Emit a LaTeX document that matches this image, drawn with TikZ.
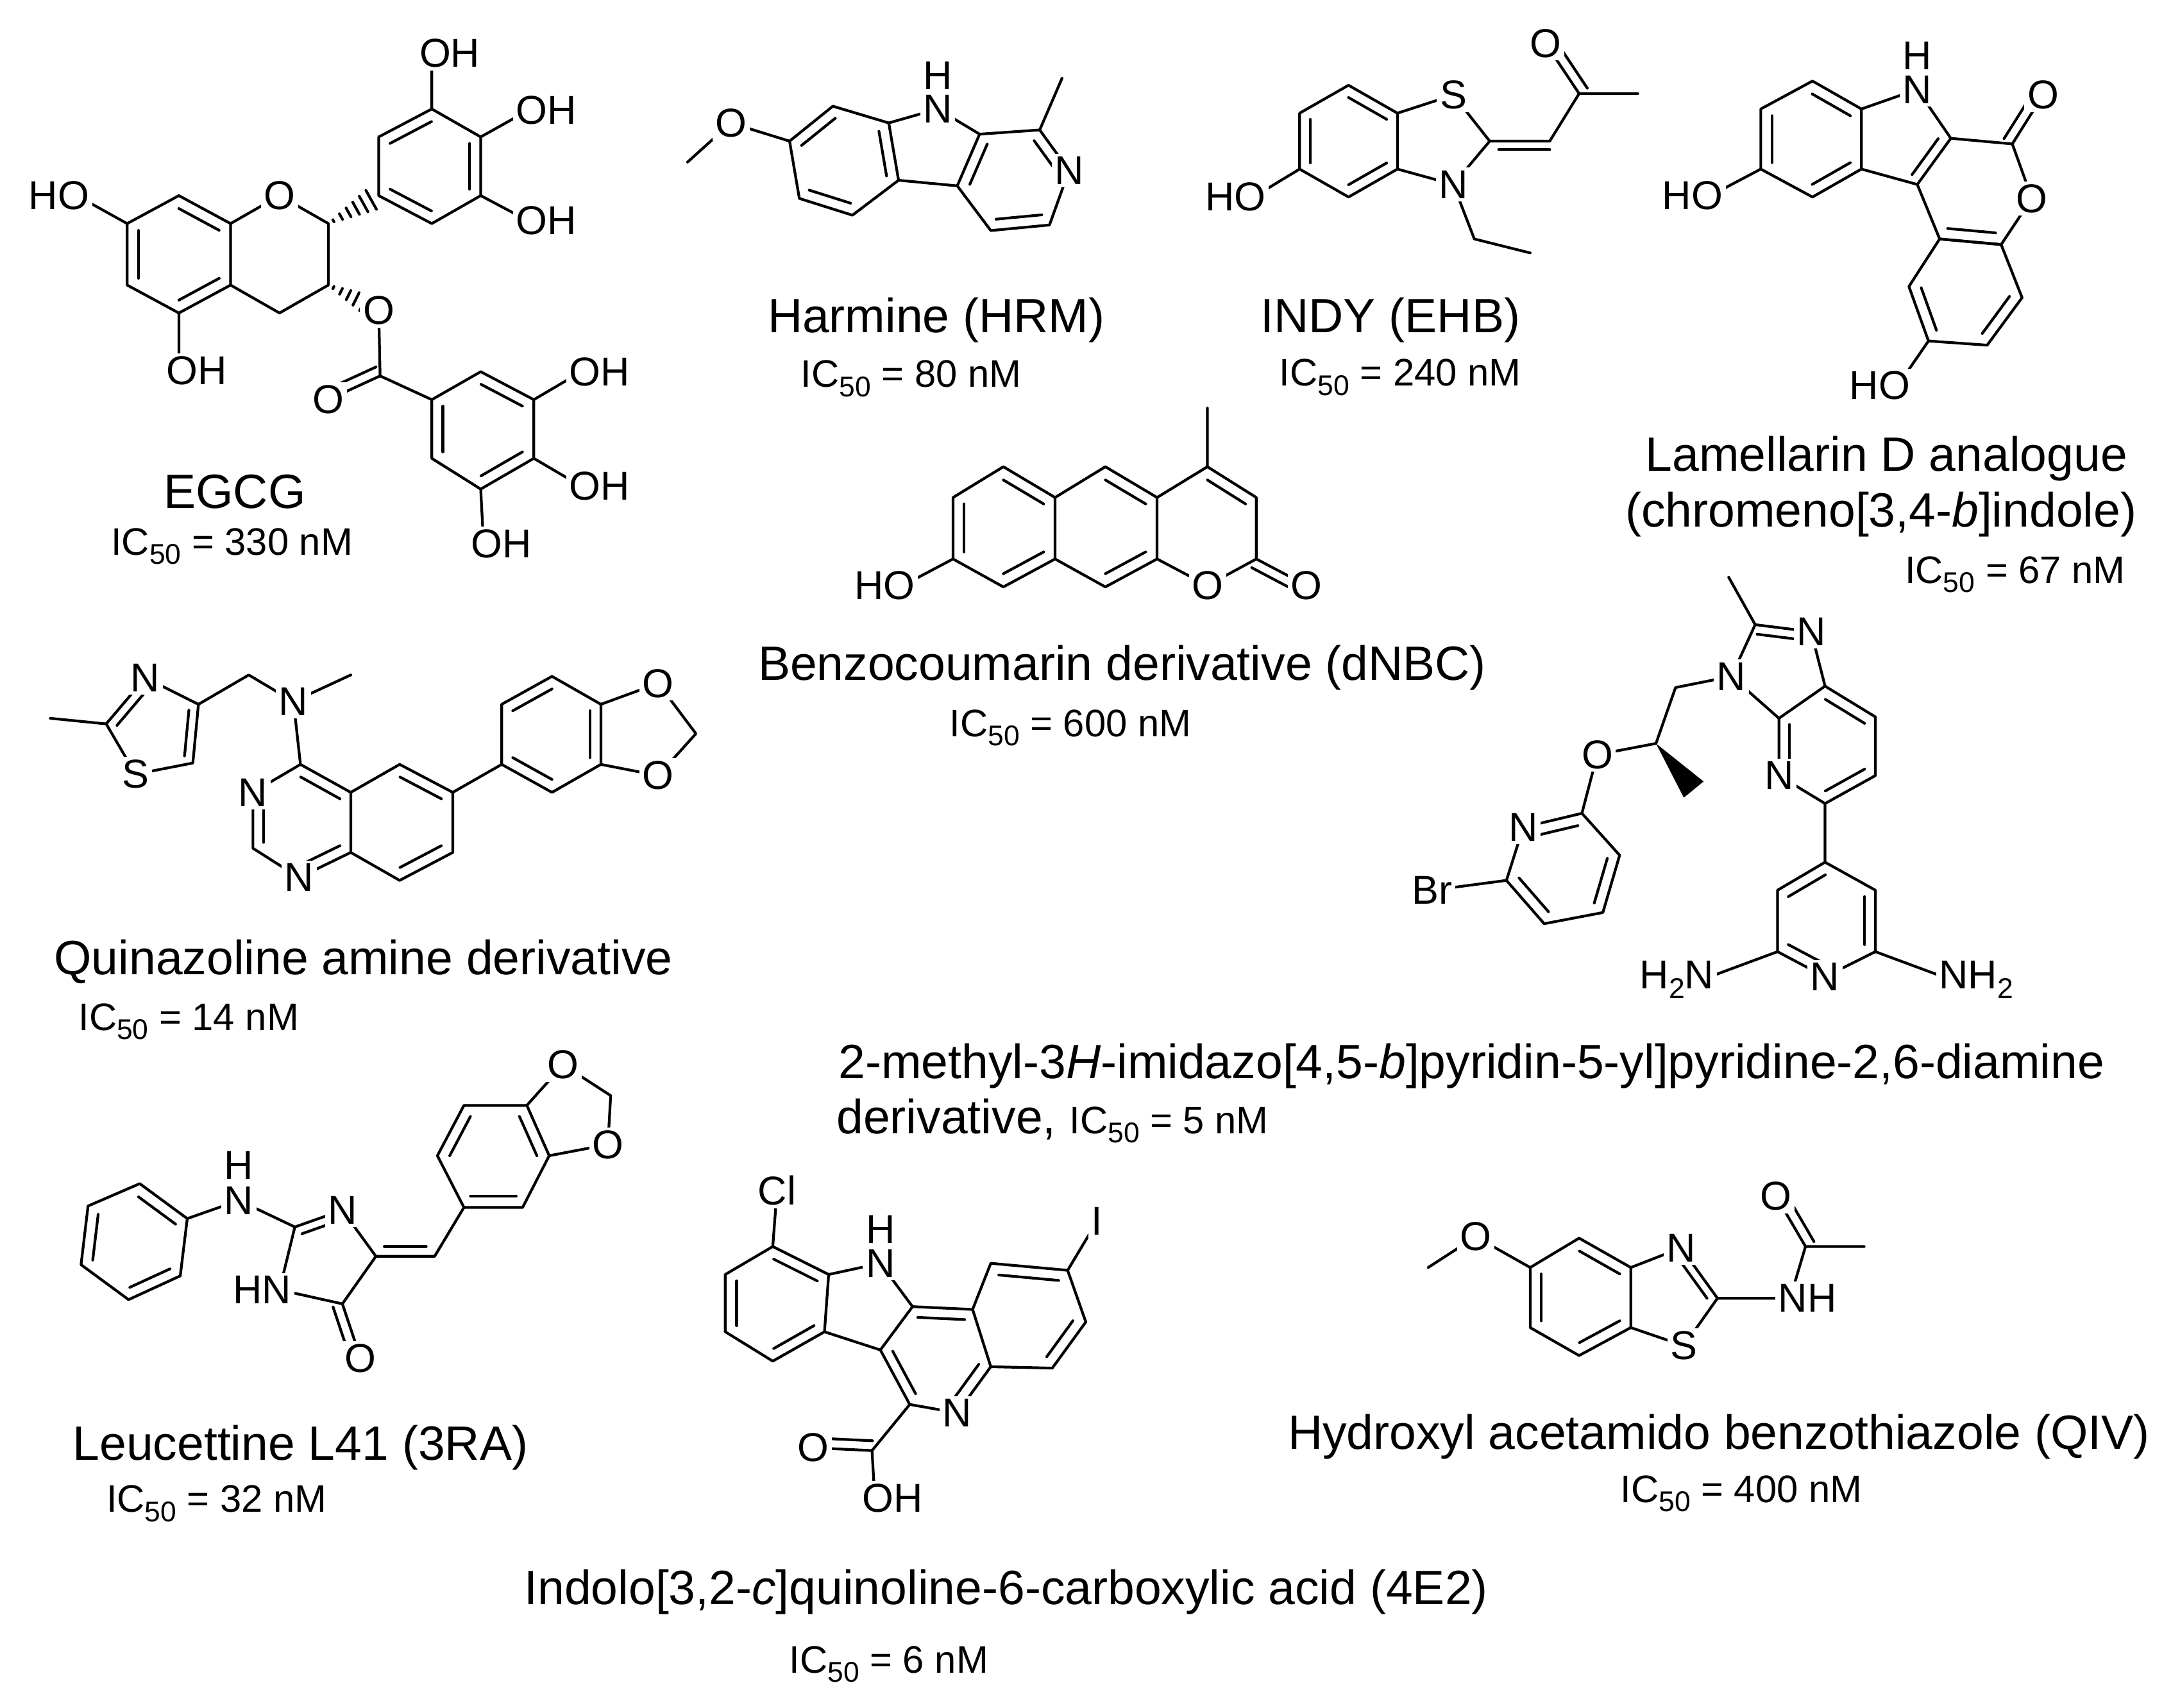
\documentclass[tikz,border=0pt]{standalone}
\usepackage{fontspec}
\setmainfont{Liberation Sans}
\usetikzlibrary{calc}
\newcommand\atomfont{\fontsize{8.2}{9}\selectfont}
\newcommand\namefont{\fontsize{9.8}{11}\selectfont}
\newcommand\icfont{\fontsize{7.8}{9}\selectfont}
\newcommand\sub[1]{\raisebox{-0.45ex}{\fontsize{5.8}{6}\selectfont #1}}
\newcommand\ICv[1]{IC\sub{50} = #1 nM}
\tikzstyle{bond} = [line width=0.55pt, line cap=round, line join=round]
\tikzstyle{atom} = [font=\atomfont, fill=white, inner sep=0.6pt]
\tikzstyle{cname} = [font=\namefont, inner sep=0pt]
\tikzstyle{icl} = [font=\icfont, inner sep=0pt]
% inner line of a ring bond, shifted towards the ring centre
\newcommand\ib[3]{\draw[bond] ($(#1)!0.22!(#3)$) -- ($(#2)!0.22!(#3)$);}
% second line of a double bond outside a ring
\newcommand\db[2]{\draw[bond] ($(#1)!2pt!90:(#2)$) -- ($(#2)!2pt!-90:(#1)$);}
% hashed bond
\newcommand\hb[2]{\foreach \t in {0.1,0.25,...,0.95}{\draw[bond] ($(#1)!\t!(#2)!{\t*2.6pt}!90:(#2)$) -- ($(#1)!\t!(#2)!{\t*2.6pt}!-90:(#2)$);}}
\newcommand\OH[1]{\node[atom,anchor=west,xshift=-3.3pt] at (#1) {OH};}
\newcommand\HO[1]{\node[atom,anchor=east,xshift=3.3pt] at (#1) {HO};}

\begin{document}
\begin{tikzpicture}[x=0.01cm, y=-0.01cm]
    \useasboundingbox (0,0) rectangle (1560,1222);

    % EGCG
    \coordinate (ea1) at (91,160); \coordinate (ea2) at (128,140); \coordinate (ea3) at (165,160);
    \coordinate (ea4) at (165,204); \coordinate (ea5) at (128,224); \coordinate (ea6) at (91,204);
    \coordinate (eO1) at (200,140); \coordinate (ec2) at (235,160); \coordinate (ec3) at (235,204); \coordinate (ec4) at (200,224);
    \coordinate (eb1) at (271,140); \coordinate (eb2) at (271,98); \coordinate (eb3) at (309,78);
    \coordinate (eb4) at (344,98); \coordinate (eb5) at (344,140); \coordinate (eb6) at (309,160);
    \coordinate (eg1) at (309,286); \coordinate (eg2) at (344,266); \coordinate (eg3) at (382,286);
    \coordinate (eg4) at (382,328); \coordinate (eg5) at (344,350); \coordinate (eg6) at (309,328);
    \coordinate (eOe) at (271,222); \coordinate (eCO) at (272,269); \coordinate (eOk) at (235,286);
    \coordinate (eOH1) at (55,140); \coordinate (eOH2) at (128,265); \coordinate (eOH3) at (309,38);
    \coordinate (eOH4) at (378,79); \coordinate (eOH5) at (378,158); \coordinate (eOH6) at (416,266);
    \coordinate (eOH7) at (416,348); \coordinate (eOH8) at (346,389);
    \draw[bond] (ea1) -- (ea2) -- (ea3) -- (ea4) -- (ea5) -- (ea6) -- cycle;
    \draw[bond] (ea3) -- (eO1) -- (ec2) -- (ec3) -- (ec4) -- (ea4);
    \draw[bond] (eb1) -- (eb2) -- (eb3) -- (eb4) -- (eb5) -- (eb6) -- cycle;
    \draw[bond] (eg1) -- (eg2) -- (eg3) -- (eg4) -- (eg5) -- (eg6) -- cycle;
    \hb{ec2}{eb1} \hb{ec3}{eOe}
    \draw[bond] (eOe) -- (eCO) -- (eg1); \draw[bond] (eCO) -- (eOk); \db{eOk}{eCO}
    \draw[bond] (ea1) -- (eOH1) (ea5) -- (eOH2) (eb3) -- (eOH3) (eb4) -- (eOH4) (eb5) -- (eOH5)
                (eg3) -- (eOH6) (eg4) -- (eOH7) (eg5) -- (eOH8);
    \ib{ea2}{ea3}{128,182} \ib{ea4}{ea5}{128,182} \ib{ea6}{ea1}{128,182}
    \ib{eb2}{eb3}{308,119} \ib{eb4}{eb5}{308,119} \ib{eb6}{eb1}{308,119}
    \ib{eg2}{eg3}{345,307} \ib{eg4}{eg5}{345,307} \ib{eg6}{eg1}{345,307}
    \node[atom] at (eO1) {O}; \node[atom] at (eOe) {O}; \node[atom] at (eOk) {O};
    \HO{eOH1} \OH{eOH2} \OH{eOH3} \OH{eOH4} \OH{eOH5} \OH{eOH6} \OH{eOH7} \OH{eOH8}
    \node[cname] (egcg) at (168,352) {EGCG};
    \node[icl] (egcgic) at (166,391) {\ICv{330}};

    % Harmine
    \coordinate (h1) at (565,101); \coordinate (h2) at (596,76); \coordinate (h3) at (636,88);
    \coordinate (h4) at (643,129); \coordinate (h5) at (610,154); \coordinate (h6) at (572,142);
    \coordinate (hN9) at (671,78); \coordinate (h9a) at (701,96); \coordinate (h4a) at (685,133);
    \coordinate (hc1) at (744,93); \coordinate (hN2) at (765,122); \coordinate (hc3) at (751,161); \coordinate (hc4) at (709,165);
    \coordinate (hMe) at (760,56); \coordinate (hO) at (523,88); \coordinate (hOMe) at (492,116);
    \draw[bond] (h1) -- (h2) -- (h3) -- (h4) -- (h5) -- (h6) -- cycle;
    \draw[bond] (h3) -- (hN9) -- (h9a) -- (h4a) -- (h4);
    \draw[bond] (h9a) -- (hc1) -- (hN2) -- (hc3) -- (hc4) -- (h4a);
    \draw[bond] (hc1) -- (hMe) (h1) -- (hO) -- (hOMe);
    \ib{h1}{h2}{604,115} \ib{h3}{h4}{604,115} \ib{h5}{h6}{604,115}
    \ib{h9a}{h4a}{726,128} \ib{hc1}{hN2}{726,128} \ib{hc3}{hc4}{726,128}
    \node[atom] at (hN9) {N}; \node[atom] at (671,54) {H}; \node[atom] at (hN2) {N}; \node[atom] at (hO) {O};
    \node[cname] (harmine) at (670,229) {Harmine (HRM)};
    \node[icl] (harmineic) at (652,271) {\ICv{80}};

    % INDY
    \coordinate (i1) at (965,61); \coordinate (i2) at (1000,81); \coordinate (i3) at (1000,121);
    \coordinate (i4) at (965,141); \coordinate (i5) at (930,121); \coordinate (i6) at (930,81);
    \coordinate (iS) at (1040,68); \coordinate (ic2) at (1066,101); \coordinate (iN) at (1040,132);
    \coordinate (ich) at (1109,101); \coordinate (ico) at (1130,67); \coordinate (iO) at (1106,31); \coordinate (iMe) at (1172,67);
    \coordinate (iet1) at (1055,171); \coordinate (iet2) at (1095,181); \coordinate (iOH) at (897,141);
    \draw[bond] (i1) -- (i2) -- (i3) -- (i4) -- (i5) -- (i6) -- cycle;
    \draw[bond] (i2) -- (iS) -- (ic2) -- (iN) -- (i3);
    \draw[bond] (ic2) -- (ich) -- (ico) -- (iMe) (ico) -- (iO) (iN) -- (iet1) -- (iet2) (i5) -- (iOH);
    \draw[bond] ($(ic2)!0.15!(ich)+(0,6)$) -- ($(ich)+(0,6)$);
    \db{iO}{ico}
    \ib{i1}{i2}{965,101} \ib{i3}{i4}{965,101} \ib{i5}{i6}{965,101}
    \node[atom] at (iS) {S}; \node[atom] at (iN) {N}; \node[atom] at (iO) {O}; \HO{iOH}
    \node[cname] (indy) at (995,229) {INDY (EHB)};
    \node[icl] (indyic) at (1002,270) {\ICv{240}};

    % Lamellarin D analogue
    \coordinate (l1) at (1297,58); \coordinate (l2) at (1332,78); \coordinate (l3) at (1332,121);
    \coordinate (l4) at (1297,141); \coordinate (l5) at (1260,121); \coordinate (l6) at (1260,78);
    \coordinate (lN) at (1372,64); \coordinate (la) at (1396,99); \coordinate (lb) at (1372,132);
    \coordinate (lc) at (1440,103); \coordinate (lOk) at (1462,68); \coordinate (lO) at (1454,142);
    \coordinate (ld) at (1432,175); \coordinate (le) at (1388,171);
    \coordinate (lf) at (1447,213); \coordinate (lg) at (1422,247); \coordinate (lh) at (1380,244); \coordinate (li) at (1366,205);
    \coordinate (lOH1) at (1224,140); \coordinate (lOH2) at (1358,276);
    \draw[bond] (l1) -- (l2) -- (l3) -- (l4) -- (l5) -- (l6) -- cycle;
    \draw[bond] (l2) -- (lN) -- (la) -- (lb) -- (l3);
    \draw[bond] (la) -- (lc) -- (lO) -- (ld) -- (le) -- (lb) (lc) -- (lOk);
    \draw[bond] (le) -- (ld) -- (lf) -- (lg) -- (lh) -- (li) -- (le);
    \draw[bond] (l5) -- (lOH1) (lh) -- (lOH2);
    \db{lc}{lOk}
    \ib{l1}{l2}{1296,100} \ib{l3}{l4}{1296,100} \ib{l5}{l6}{1296,100}
    \ib{la}{lb}{1355,100} \ib{le}{ld}{1414,137} \ib{li}{lh}{1406,209} \ib{lf}{lg}{1406,209}
    \node[atom] at (lN) {N}; \node[atom] at (1372,40) {H}; \node[atom] at (lO) {O}; \node[atom] at (lOk) {O};
    \HO{lOH1} \HO{lOH2}
    \node[cname] (lamellarin) at (1350,328) {Lamellarin D analogue};
    \node[cname] (lamellarin2) at (1346,368) {(chromeno[3,4-\textit{b}]indole)};
    \node[icl] (lamellarinic) at (1442,411) {\ICv{67}};

    % Benzocoumarin
    \coordinate (r1) at (718,334); \coordinate (r2) at (755,356); \coordinate (r3) at (755,400);
    \coordinate (r4) at (718,420); \coordinate (r5) at (682,400); \coordinate (r6) at (682,356);
    \coordinate (s1) at (791,334); \coordinate (s2) at (828,356); \coordinate (s3) at (828,400); \coordinate (s4) at (791,420);
    \coordinate (t1) at (864,334); \coordinate (t2) at (899,356); \coordinate (t3) at (899,400); \coordinate (tO) at (864,419);
    \coordinate (tMe) at (864,292); \coordinate (tOk) at (935,419); \coordinate (rOH) at (646,419);
    \draw[bond] (r1) -- (r2) -- (r3) -- (r4) -- (r5) -- (r6) -- cycle;
    \draw[bond] (r2) -- (s1) -- (s2) -- (s3) -- (s4) -- (r3);
    \draw[bond] (s2) -- (t1) -- (t2) -- (t3) -- (tO) -- (s3);
    \draw[bond] (t1) -- (tMe) (t3) -- (tOk) (r5) -- (rOH);
    \db{tOk}{t3}
    \ib{r1}{r2}{718,377} \ib{r3}{r4}{718,377} \ib{r5}{r6}{718,377}
    \ib{s1}{s2}{791,377} \ib{s3}{s4}{791,377} \ib{t1}{t2}{864,377}
    \node[atom] at (tO) {O}; \node[atom] at (tOk) {O}; \HO{rOH}
    \node[cname] (dnbc) at (803,478) {Benzocoumarin derivative (dNBC)};
    \node[icl] (dnbcic) at (766,521) {\ICv{600}};

    % Quinazoline amine derivative
    \coordinate (qMe) at (36,514); \coordinate (qt2) at (76,518); \coordinate (qtN) at (104,485);
    \coordinate (qt4) at (142,504); \coordinate (qt5) at (138,546); \coordinate (qtS) at (97,554);
    \coordinate (qch) at (178,483); \coordinate (qN) at (210,502); \coordinate (qNMe) at (251,483);
    \coordinate (q4) at (215,547); \coordinate (qN3) at (181,567); \coordinate (q2) at (181,607);
    \coordinate (qN1) at (214,628); \coordinate (q8a) at (251,610); \coordinate (q4a) at (251,567);
    \coordinate (q5) at (286,547); \coordinate (q6) at (324,567); \coordinate (q7) at (324,610); \coordinate (q8) at (286,630);
    \coordinate (qa1) at (359,547); \coordinate (qa2) at (359,504); \coordinate (qa3) at (395,484);
    \coordinate (qa4) at (430,504); \coordinate (qa5) at (430,547); \coordinate (qa6) at (395,567);
    \coordinate (qO1) at (471,489); \coordinate (qOc) at (498,525); \coordinate (qO2) at (471,555);
    \draw[bond] (qMe) -- (qt2) -- (qtN) -- (qt4) -- (qt5) -- (qtS) -- (qt2);
    \draw[bond] (qt4) -- (qch) -- (qN) -- (qNMe) (qN) -- (q4);
    \draw[bond] (q4) -- (qN3) -- (q2) -- (qN1) -- (q8a) -- (q4a) -- cycle;
    \draw[bond] (q4a) -- (q5) -- (q6) -- (q7) -- (q8) -- (q8a);
    \draw[bond] (q6) -- (qa1) -- (qa2) -- (qa3) -- (qa4) -- (qa5) -- (qa6) -- (qa1);
    \draw[bond] (qa4) -- (qO1) -- (qOc) -- (qO2) -- (qa5);
    \ib{qt2}{qtN}{111,523} \ib{qt4}{qt5}{111,523}
    \ib{q4}{q4a}{216,588} \ib{qN3}{q2}{216,588} \ib{qN1}{q8a}{216,588}
    \ib{q5}{q6}{287,588} \ib{q7}{q8}{287,588}
    \ib{qa2}{qa3}{395,525} \ib{qa4}{qa5}{395,525} \ib{qa6}{qa1}{395,525}
    \node[atom] at (qtN) {N}; \node[atom] at (qtS) {S}; \node[atom] at (qN) {N};
    \node[atom] at (qN3) {N}; \node[atom] at (qN1) {N}; \node[atom] at (qO1) {O}; \node[atom] at (qO2) {O};
    \node[cname] (quinazoline) at (260,688) {Quinazoline amine derivative};
    \node[icl] (quinazolineic) at (135,731) {\ICv{14}};

    % imidazopyridine
    \coordinate (mMe) at (1237,413); \coordinate (m2) at (1256,447); \coordinate (mN1) at (1296,452);
    \coordinate (m7a) at (1306,491); \coordinate (mN3) at (1239,484); \coordinate (m3a) at (1273,514);
    \coordinate (m7) at (1342,513); \coordinate (m6) at (1342,555); \coordinate (m5) at (1306,575); \coordinate (mN4) at (1273,555);
    \coordinate (mch2) at (1199,492); \coordinate (mch) at (1185,532); \coordinate (mwMe) at (1212,565); \coordinate (mO) at (1143,540);
    \coordinate (p2) at (1132,582); \coordinate (pN) at (1090,592); \coordinate (p6) at (1078,630);
    \coordinate (pBr) at (1025,637); \coordinate (p5) at (1105,661); \coordinate (p4) at (1147,653); \coordinate (p3) at (1159,612);
    \coordinate (n4) at (1306,617); \coordinate (n3) at (1272,637); \coordinate (n2) at (1272,681);
    \coordinate (nN) at (1306,699); \coordinate (n6) at (1342,681); \coordinate (n5) at (1342,637);
    \coordinate (nNH1) at (1218,701); \coordinate (nNH2) at (1396,701);
    \draw[bond] (mMe) -- (m2) -- (mN1) -- (m7a) -- (m3a) -- (mN3) -- (m2);
    \draw[bond] (m7a) -- (m7) -- (m6) -- (m5) -- (mN4) -- (m3a);
    \draw[bond] (mN3) -- (mch2) -- (mch) -- (mO) -- (p2);
    \fill (mch) -- ($(mwMe)!2.6pt!90:(mch)$) -- ($(mwMe)!2.6pt!-90:(mch)$) -- cycle;
    \draw[bond] (p2) -- (pN) -- (p6) -- (p5) -- (p4) -- (p3) -- (p2) (p6) -- (pBr);
    \draw[bond] (m5) -- (n4) -- (n3) -- (n2) -- (nN) -- (n6) -- (n5) -- (n4);
    \draw[bond] (n2) -- (nNH1) (n6) -- (nNH2);
    \ib{m2}{mN1}{1262,478} \ib{m7a}{m7}{1307,534} \ib{m3a}{mN4}{1307,534} \ib{m5}{m6}{1307,534}
    \ib{pN}{p2}{1119,622} \ib{p6}{p5}{1119,622} \ib{p4}{p3}{1119,622}
    \ib{n4}{n3}{1307,658} \ib{n5}{n6}{1307,658} \ib{n2}{nN}{1307,658}
    \node[atom] at (mN1) {N}; \node[atom] at (mN3) {N}; \node[atom] at (mN4) {N}; \node[atom] at (mO) {O};
    \node[atom] at (pN) {N}; \node[atom] at (pBr) {Br}; \node[atom] at (nN) {N};
    \node[atom,anchor=east,xshift=3.2pt] at (nNH1) {H\sub{2}N};
    \node[atom,anchor=west,xshift=-3.2pt] at (nNH2) {NH\sub{2}};
    \node[cname] (imidazo) at (1053,763) {2-methyl-3\textit{H}-imidazo[4,5-\textit{b}]pyridin-5-yl]pyridine-2,6-diamine};
    \node[cname,anchor=west] (imidazo2) at (598,802) {derivative, {\icfont\ICv{5}}};

    % Leucettine L41
    \coordinate (u1) at (100,847); \coordinate (u2) at (134,872); \coordinate (u3) at (129,913);
    \coordinate (u4) at (92,930); \coordinate (u5) at (58,905); \coordinate (u6) at (63,863);
    \coordinate (uNH) at (171,859); \coordinate (uc2) at (211,878); \coordinate (uN3) at (245,866);
    \coordinate (uc4) at (269,899); \coordinate (uc5) at (245,933); \coordinate (uN1) at (200,923); \coordinate (uO) at (258,972);
    \coordinate (uch) at (311,899);
    \coordinate (v1) at (332,864); \coordinate (v2) at (374,864); \coordinate (v3) at (393,827);
    \coordinate (v4) at (377,791); \coordinate (v5) at (332,791); \coordinate (v6) at (313,827);
    \coordinate (vO1) at (403,762); \coordinate (vOc) at (437,784); \coordinate (vO2) at (435,819);
    \draw[bond] (u1) -- (u2) -- (u3) -- (u4) -- (u5) -- (u6) -- cycle;
    \draw[bond] (u2) -- (uNH) -- (uc2) -- (uN3) -- (uc4) -- (uc5) -- (uN1) -- (uc2);
    \draw[bond] (uc5) -- (uO) (uc4) -- (uch) -- (v1);
    \draw[bond] (v1) -- (v2) -- (v3) -- (v4) -- (v5) -- (v6) -- cycle;
    \draw[bond] (v4) -- (vO1) -- (vOc) -- (vO2) -- (v3);
    \db{uO}{uc5} \draw[bond] ($(uc4)+(6,-7)$) -- ($(uch)+(-6,-7)$);
    \ib{u1}{u2}{96,890} \ib{u3}{u4}{96,890} \ib{u5}{u6}{96,890}
    \ib{uc2}{uN3}{234,900}
    \ib{v1}{v2}{353,827} \ib{v3}{v4}{353,827} \ib{v5}{v6}{353,827}
    \node[atom] at (uNH) {N}; \node[atom] at (171,834) {H}; \node[atom] at (uN3) {N};
    \node[atom,anchor=east,xshift=3.2pt] at (uN1) {HN}; \node[atom] at (uO) {O};
    \node[atom] at (vO1) {O}; \node[atom] at (vO2) {O};
    \node[cname] (leucettine) at (215,1036) {Leucettine L41 (3RA)};
    \node[icl] (leucettineic) at (155,1076) {\ICv{32}};

    % Indolo[3,2-c]quinoline
    \coordinate (b1) at (553,892); \coordinate (b2) at (593,912); \coordinate (b3) at (590,953);
    \coordinate (b4) at (553,974); \coordinate (b5) at (519,953); \coordinate (b6) at (519,912);
    \coordinate (bCl) at (556,852); \coordinate (bN) at (630,904);
    \coordinate (c1) at (653,935); \coordinate (c2) at (630,966); \coordinate (c6) at (651,1005);
    \coordinate (cN) at (685,1011); \coordinate (c5) at (709,978); \coordinate (c4) at (696,937);
    \coordinate (d1) at (709,904); \coordinate (d2) at (764,909); \coordinate (d3) at (777,946); \coordinate (d4) at (753,979);
    \coordinate (dI) at (785,874); \coordinate (cC) at (624,1038); \coordinate (cOk) at (582,1036); \coordinate (cOH) at (626,1072);
    \draw[bond] (b1) -- (b2) -- (b3) -- (b4) -- (b5) -- (b6) -- cycle;
    \draw[bond] (b1) -- (bCl) (b2) -- (bN) -- (c1) -- (c2) -- (b3);
    \draw[bond] (c1) -- (c4) -- (c5) -- (cN) -- (c6) -- (c2);
    \draw[bond] (c4) -- (d1) -- (d2) -- (d3) -- (d4) -- (c5) (d2) -- (dI);
    \draw[bond] (c6) -- (cC) -- (cOk) (cC) -- (cOH);
    \db{cOk}{cC}
    \ib{b1}{b2}{556,933} \ib{b3}{b4}{556,933} \ib{b5}{b6}{556,933}
    \ib{c1}{c4}{670,970} \ib{c2}{c6}{670,970} \ib{cN}{c5}{670,970}
    \ib{d1}{d2}{735,942} \ib{d3}{d4}{735,942}
    \node[atom] at (bCl) {Cl}; \node[atom] at (bN) {N}; \node[atom] at (630,880) {H};
    \node[atom] at (cN) {N}; \node[atom] at (dI) {I}; \node[atom] at (cOk) {O}; \OH{cOH}
    \node[cname] (indolo) at (720,1139) {Indolo[3,2-\textit{c}]quinoline-6-carboxylic acid (4E2)};
    \node[icl] (indoloic) at (636,1191) {\ICv{6}};

    % QIV
    \coordinate (wMe) at (1022,907); \coordinate (wO) at (1056,885); \coordinate (w5) at (1095,907);
    \coordinate (x1) at (1130,886); \coordinate (x2) at (1167,907); \coordinate (x3) at (1167,950);
    \coordinate (x4) at (1130,970); \coordinate (x5) at (1095,950);
    \coordinate (wN) at (1203,893); \coordinate (w2) at (1229,929); \coordinate (wS) at (1205,963);
    \coordinate (wNH) at (1281,929); \coordinate (wC) at (1292,892); \coordinate (wOk) at (1271,856); \coordinate (wMe2) at (1334,892);
    \draw[bond] (w5) -- (x1) -- (x2) -- (x3) -- (x4) -- (x5) -- cycle;
    \draw[bond] (wMe) -- (wO) -- (w5) (x2) -- (wN) -- (w2) -- (wS) -- (x3);
    \draw[bond] (w2) -- (wNH) -- (wC) -- (wOk) (wC) -- (wMe2);
    \db{wOk}{wC}
    \ib{x1}{x2}{1131,928} \ib{x3}{x4}{1131,928} \ib{x5}{w5}{1131,928} \ib{wN}{w2}{1195,929}
    \node[atom] at (wO) {O}; \node[atom] at (wN) {N}; \node[atom] at (wS) {S}; \node[atom] at (wOk) {O};
    \node[atom,anchor=west,xshift=-3.2pt] at (wNH) {NH};
    \node[cname] (qiv) at (1230,1028) {Hydroxyl acetamido benzothiazole (QIV)};
    \node[icl] (qivic) at (1246,1069) {\ICv{400}};
\end{tikzpicture}
\end{document}
